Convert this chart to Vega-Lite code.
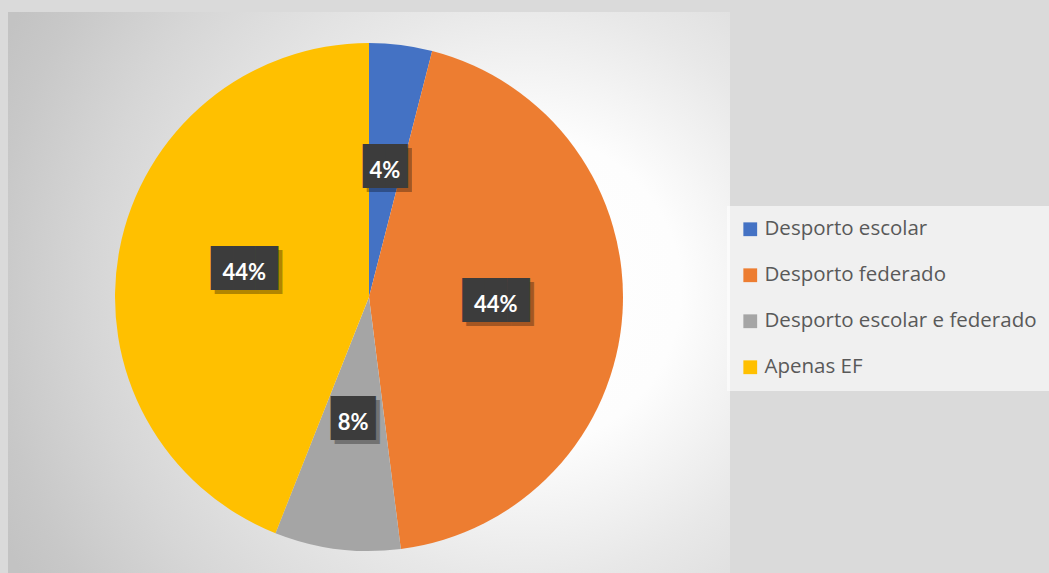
{
  "$schema": "https://vega.github.io/schema/vega-lite/v6.json",
  "width": 722,
  "height": 570,
  "autosize": {"type": "none"},
  "padding": {"left": 8, "top": 12, "right": 319, "bottom": -9},
  "background": "#dadada",
  "view": {
    "stroke": null,
    "fill": {
      "gradient": "radial",
      "x1": 0.716, "y1": 0.491, "r1": 0,
      "x2": 0.716, "y2": 0.491, "r2": 0.8,
      "stops": [
        {"offset": 0, "color": "#ffffff"},
        {"offset": 0.27, "color": "#fdfdfd"},
        {"offset": 0.5, "color": "#e8e8e8"},
        {"offset": 0.75, "color": "#d6d6d6"},
        {"offset": 0.92, "color": "#c8c8c8"},
        {"offset": 1, "color": "#c3c3c3"}
      ]
    }
  },
  "data": {
    "values": [
      {"categoria": "Desporto escolar", "pct": 4},
      {"categoria": "Desporto federado", "pct": 44},
      {"categoria": "Desporto escolar e federado", "pct": 8},
      {"categoria": "Apenas EF", "pct": 44}
    ]
  },
  "transform": [
    {"calculate": "indexof(['Desporto escolar','Desporto federado','Desporto escolar e federado','Apenas EF'], datum.categoria)", "as": "ordem"},
    {"calculate": "datum.pct + '%'", "as": "rotulo"},
    {"calculate": "replace(datum.rotulo, regexp('.', 'g'), '█')", "as": "caixa"}
  ],
  "encoding": {
    "theta": {"field": "pct", "type": "quantitative", "stack": true},
    "order": {"field": "ordem", "type": "quantitative"}
  },
  "layer": [
    {
      "mark": {"type": "arc", "outerRadius": 254},
      "encoding": {
        "color": {
          "field": "categoria",
          "type": "nominal",
          "scale": {
            "domain": ["Desporto escolar", "Desporto federado", "Desporto escolar e federado", "Apenas EF"],
            "range": ["#4472C4", "#ED7D31", "#A5A5A5", "#FFC000"]
          },
          "legend": {
            "orient": "none",
            "legendX": 719,
            "legendY": 194,
            "title": null,
            "symbolType": "square",
            "symbolSize": 190,
            "symbolStrokeWidth": 0,
            "symbolOpacity": 1,
            "labelFont": "Open Sans",
            "labelFontSize": 20.5,
            "labelColor": "#595959",
            "labelOffset": 4,
            "labelLimit": 400,
            "rowPadding": 25,
            "padding": 13,
            "fillColor": "rgba(255,255,255,0.6)",
            "strokeColor": null
          }
        }
      }
    },
    {
      "mark": {"type": "text", "radius": 127, "font": "DejaVu Sans Mono", "fontSize": 37, "color": "#000000", "opacity": 0.3, "dx": 4, "dy": 1, "baseline": "middle", "align": "center"},
      "encoding": {"detail": {"field": "categoria"}, "text": {"field": "caixa"}}
    },
    {
      "mark": {"type": "text", "radius": 127, "font": "DejaVu Sans Mono", "fontSize": 37, "color": "#3c3c3c", "dy": -3, "baseline": "middle", "align": "center"},
      "encoding": {"detail": {"field": "categoria"}, "text": {"field": "caixa"}}
    },
    {
      "mark": {"type": "text", "radius": 127, "font": "Lato", "fontWeight": "bold", "fontSize": 22, "color": "#ffffff", "baseline": "middle", "align": "center"},
      "encoding": {"detail": {"field": "categoria"}, "text": {"field": "rotulo"}}
    }
  ]
}
